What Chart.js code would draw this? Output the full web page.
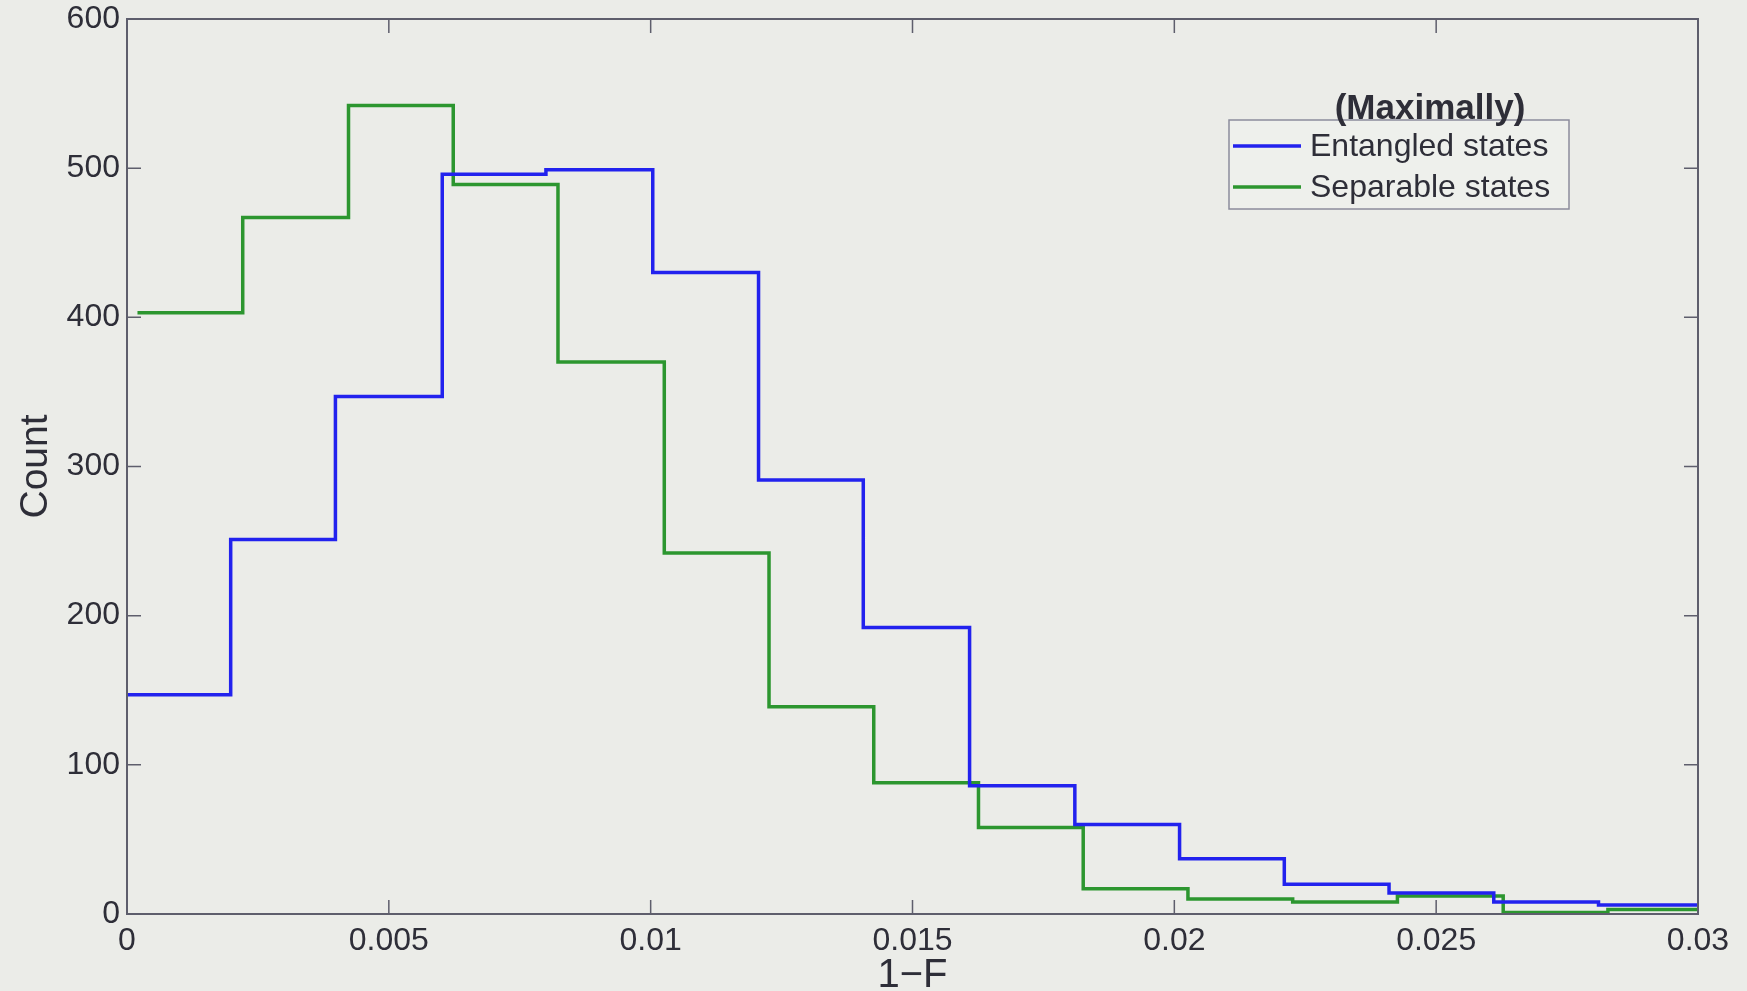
<!DOCTYPE html>
<html>
<head>
<meta charset="utf-8">
<script src="https://cdn.jsdelivr.net/npm/chart.js@4"></script>
<style>
  html, body { margin: 0; padding: 0; background: #ebece8; }
  #c { display: block; }
</style>
</head>
<body>
<canvas id="c" width="1747" height="991"></canvas>
<script>
// histogram bins (left edges + last right edge)
const entangledEdges = [0, 0.00198, 0.00398, 0.00602, 0.0080, 0.01004, 0.01206, 0.01406, 0.01609, 0.0181, 0.0201, 0.0221, 0.0241, 0.0261, 0.0281, 0.030];
const entangledCounts = [147, 251, 347, 496, 499, 430, 291, 192, 86, 60, 37, 20, 14, 8, 6];

const separableEdges = [0.0002, 0.00221, 0.00423, 0.00623, 0.00823, 0.01026, 0.01226, 0.01426, 0.01626, 0.01826, 0.02026, 0.02226, 0.02426, 0.02628, 0.02828, 0.030];
const separableCounts = [403, 467, 542, 489, 370, 242, 139, 88, 58, 17, 10, 8, 12, 1, 3];

const seriesNames = ['Entangled states', 'Separable states'];
const legendTitle = '(Maximally)';

const xTickValues = [0, 0.005, 0.01, 0.015, 0.02, 0.025, 0.03];
const xTickLabels = ['0', '0.005', '0.01', '0.015', '0.02', '0.025', '0.03'];
const yTickValues = [0, 100, 200, 300, 400, 500, 600];

const AXIS = '#5e5e6c';
const TXT = '#2e2e38';
const FONT = '"Liberation Sans", Arial, sans-serif';

function stairs(edges, counts) {
  // one point per bin left edge, plus the closing right edge
  let pts = counts.map((c, i) => ({ x: edges[i], y: c }));
  pts.push({ x: edges[edges.length - 1], y: counts[counts.length - 1] });
  return pts;
}

// frame on all four sides with MATLAB style inward ticks
const framePlugin = {
  id: 'frame',
  afterDatasetsDraw(chart) {
    const { ctx, chartArea: a, scales } = chart;
    ctx.save();
    ctx.strokeStyle = AXIS;
    ctx.lineWidth = 2;
    ctx.strokeRect(a.left, a.top, a.right - a.left, a.bottom - a.top);
    ctx.lineWidth = 1.5;
    const L = 14;
    xTickValues.forEach(v => {
      let px = scales.x.getPixelForValue(v);
      ctx.beginPath();
      ctx.moveTo(px, a.bottom); ctx.lineTo(px, a.bottom - L);
      ctx.moveTo(px, a.top); ctx.lineTo(px, a.top + L);
      ctx.stroke();
    });
    yTickValues.forEach(v => {
      let py = scales.y.getPixelForValue(v);
      ctx.beginPath();
      ctx.moveTo(a.left, py); ctx.lineTo(a.left + L, py);
      ctx.moveTo(a.right, py); ctx.lineTo(a.right - L, py);
      ctx.stroke();
    });
    ctx.restore();
  }
};

// legend box with the title sitting on its top border
const legendPlugin = {
  id: 'boxLegend',
  afterDraw(chart) {
    const ctx = chart.ctx;
    const bx = 1229, by = 120, bw = 340, bh = 89;
    ctx.save();
    ctx.fillStyle = '#eef0ec';
    ctx.fillRect(bx, by, bw, bh);
    ctx.strokeStyle = '#8c8c9c';
    ctx.lineWidth = 1.5;
    ctx.strokeRect(bx, by, bw, bh);
    chart.data.datasets.forEach((ds, i) => {
      let y = 146 + i * 41;
      ctx.strokeStyle = ds.borderColor;
      ctx.lineWidth = 3.5;
      ctx.beginPath(); ctx.moveTo(1233, y); ctx.lineTo(1301, y); ctx.stroke();
      ctx.fillStyle = TXT;
      ctx.font = '32px ' + FONT;
      ctx.textAlign = 'left';
      ctx.textBaseline = 'middle';
      ctx.fillText(ds.label, 1310, y + 1);
    });
    ctx.font = 'bold 35px ' + FONT;
    ctx.textAlign = 'center';
    ctx.fillStyle = TXT;
    ctx.fillText(legendTitle, 1430, 109);
    ctx.restore();
  }
};

new Chart(document.getElementById('c'), {
  type: 'line',
  data: {
    datasets: [
      { label: seriesNames[0], data: stairs(entangledEdges, entangledCounts), borderColor: '#2222ee', borderWidth: 3.5, stepped: 'before', pointRadius: 0, fill: false },
      { label: seriesNames[1], data: stairs(separableEdges, separableCounts), borderColor: '#2c962f', borderWidth: 3.5, stepped: 'before', pointRadius: 0, fill: false }
    ]
  },
  options: {
    responsive: false,
    animation: false,
    layout: { padding: { top: 19, right: 49, left: 0, bottom: 0 } },
    plugins: { legend: { display: false }, tooltip: { enabled: false } },
    scales: {
      x: {
        type: 'linear', min: 0, max: 0.03,
        afterBuildTicks: s => { s.ticks = xTickValues.map(v => ({ value: v })); },
        afterFit: s => { s.height = 77; s.paddingLeft = 0; s.paddingRight = 0; },
        grid: { display: false, drawTicks: false },
        border: { display: false },
        ticks: {
          padding: 8, color: TXT, maxRotation: 0,
          font: { family: FONT, size: 32 },
          callback: (v, i) => xTickLabels[i]
        },
        title: {
          display: true, text: '1\u2212F', color: TXT,
          font: { family: FONT, size: 40, lineHeight: 1 },
          padding: { top: 0, bottom: -5 }
        }
      },
      y: {
        min: 0, max: 600,
        afterBuildTicks: s => { s.ticks = yTickValues.map(v => ({ value: v })); },
        afterFit: s => { s.width = 127; s.paddingTop = 0; s.paddingBottom = 0; },
        grid: { display: false, drawTicks: false },
        border: { display: false },
        ticks: {
          padding: 7, color: TXT,
          font: { family: FONT, size: 32 }
        },
        title: {
          display: true, text: 'Count', color: TXT,
          font: { family: FONT, size: 39, lineHeight: 1 },
          padding: { top: 17, bottom: 0 }
        }
      }
    }
  },
  plugins: [framePlugin, legendPlugin]
});
</script>
</body>
</html>
